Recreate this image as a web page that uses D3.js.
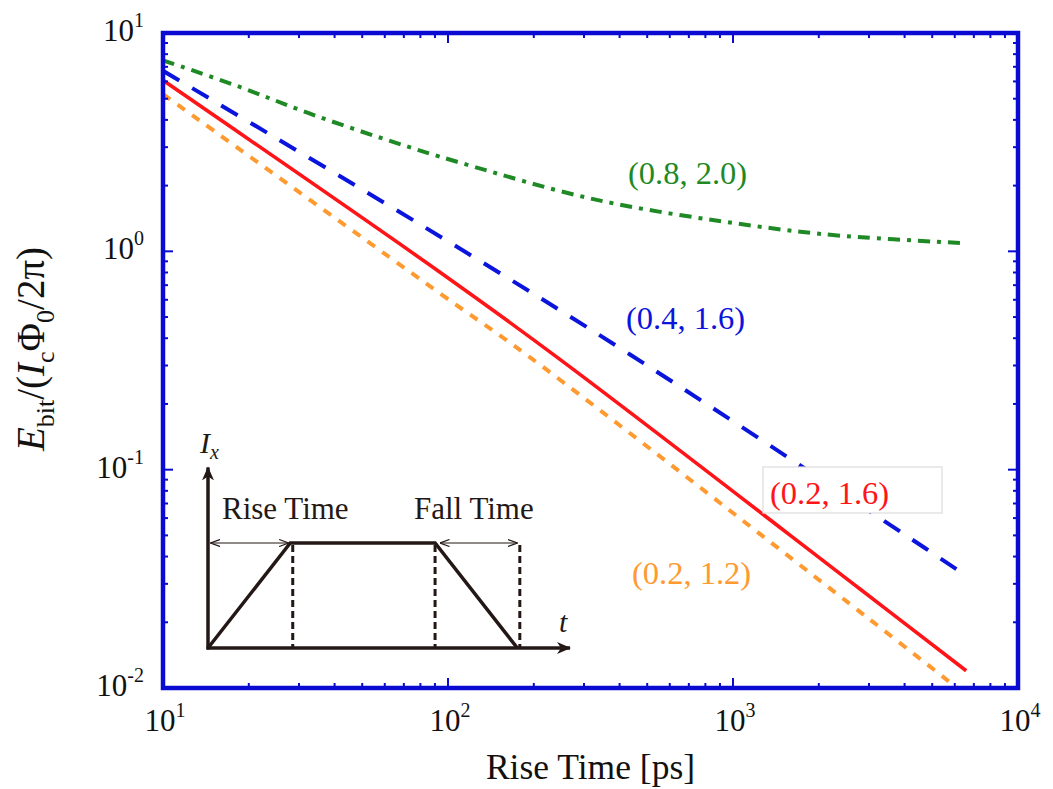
<!DOCTYPE html>
<html>
<head>
<meta charset="utf-8">
<script src="https://cdn.jsdelivr.net/npm/d3@7"></script>
<style>
  html, body { margin: 0; padding: 0; background: #fff; }
  svg { display: block; font-family: "Liberation Serif", "Times New Roman", serif; }
</style>
</head>
<body>
<svg id="chart" width="1053" height="789"></svg>
<script>
// Rise time [ps] and normalised switching energy for each (α, β) pair
const riseRed    = [10, 94, 247, 2790, 6580];
const energyRed  = [6.07, 0.80, 0.320, 0.0284, 0.0120];

const riseBlue   = [10, 94, 435, 4600, 6500];
const energyBlue = [6.71, 1.167, 0.337, 0.0447, 0.033];

const riseOrange   = [10, 94, 194, 2950, 6500];
const energyOrange = [5.25, 0.64, 0.327, 0.0211, 0.0094];

const riseGreen   = [10, 18.6, 32.8, 61, 110, 333, 1175, 2371, 6500];
const energyGreen = [7.5, 5.66, 4.27, 3.24, 2.55, 1.72, 1.31, 1.18, 1.09];

const seriesLabels = ["(0.8, 2.0)", "(0.4, 1.6)", "(0.2, 1.6)", "(0.2, 1.2)"];

const xTickExponents = [1, 2, 3, 4];
const yTickExponents = [-2, -1, 0, 1];

// Inset: schematic current pulse (time, current) in arbitrary units
const pulseT = [0, 1, 2.76, 3.76];
const pulseI = [0, 1, 1, 0];
const pulseMarkersT = [1.03, 2.76, 3.79];

const svg = d3.select("#chart");
const plot = { left: 163, right: 1018, top: 33, bottom: 688 };

const x = d3.scaleLog().domain([10, 1e4]).range([plot.left, plot.right]);
const y = d3.scaleLog().domain([0.01, 10]).range([plot.bottom, plot.top]);

const axisBlue = "#0a0ad2";

svg.append("defs").append("clipPath").attr("id", "plotClip")
  .append("rect")
  .attr("x", plot.left).attr("y", plot.top)
  .attr("width", plot.right - plot.left).attr("height", plot.bottom - plot.top);

// ---- curves ----
const line = d3.line().x(d => x(d[0])).y(d => y(d[1])).curve(d3.curveCatmullRom.alpha(0.5));
const series = [
  { t: riseGreen,  e: energyGreen,  color: "#1f8a25", dash: "12,7,4,7", width: 4 },
  { t: riseBlue,   e: energyBlue,   color: "#0a14dc", dash: "19,15",    width: 4 },
  { t: riseOrange, e: energyOrange, color: "#ff9a30", dash: "9,9",      width: 4 },
  { t: riseRed,    e: energyRed,    color: "#ff1418", dash: null,       width: 3.6 }
];
const curveG = svg.append("g").attr("clip-path", "url(#plotClip)");
series.forEach(s => {
  curveG.append("path")
    .datum(d3.zip(s.t, s.e))
    .attr("d", line)
    .attr("fill", "none")
    .attr("stroke", s.color)
    .attr("stroke-width", s.width)
    .attr("stroke-dasharray", s.dash);
});

// ---- curve labels ----
svg.append("rect")
  .attr("x", 763).attr("y", 467).attr("width", 179).attr("height", 46)
  .attr("fill", "#fff").attr("stroke", "#dcdcdc").attr("stroke-width", 1.2);

const labelSpecs = [
  { text: seriesLabels[0], x: 628, y: 184, color: "#1f8a25" },
  { text: seriesLabels[1], x: 626, y: 329, color: "#0a14dc" },
  { text: seriesLabels[2], x: 770, y: 504, color: "#ff1418" },
  { text: seriesLabels[3], x: 632, y: 584, color: "#ff9a30" }
];
labelSpecs.forEach(l => {
  svg.append("text").attr("x", l.x).attr("y", l.y)
    .attr("font-size", 32.5).attr("fill", l.color).text(l.text);
});

// ---- frame and ticks ----
const tickG = svg.append("g").attr("stroke", axisBlue).attr("stroke-width", 2);
function minorValues(lo, hi) {
  const out = [];
  for (let e = lo; e < hi; e++) for (let m = 2; m <= 9; m++) out.push(m * Math.pow(10, e));
  return out;
}
const xMinor = minorValues(1, 4);
const yMinor = minorValues(-2, 1);
const majorLen = 10, minorLen = 5;

xTickExponents.forEach(e => {
  const px = x(Math.pow(10, e));
  tickG.append("line").attr("x1", px).attr("x2", px).attr("y1", plot.bottom).attr("y2", plot.bottom - majorLen);
  tickG.append("line").attr("x1", px).attr("x2", px).attr("y1", plot.top).attr("y2", plot.top + majorLen);
});
xMinor.forEach(v => {
  const px = x(v);
  tickG.append("line").attr("x1", px).attr("x2", px).attr("y1", plot.bottom).attr("y2", plot.bottom - minorLen);
  tickG.append("line").attr("x1", px).attr("x2", px).attr("y1", plot.top).attr("y2", plot.top + minorLen);
});
yTickExponents.forEach(e => {
  const py = y(Math.pow(10, e));
  tickG.append("line").attr("y1", py).attr("y2", py).attr("x1", plot.left).attr("x2", plot.left + majorLen);
  tickG.append("line").attr("y1", py).attr("y2", py).attr("x1", plot.right).attr("x2", plot.right - majorLen);
});
yMinor.forEach(v => {
  const py = y(v);
  tickG.append("line").attr("y1", py).attr("y2", py).attr("x1", plot.left).attr("x2", plot.left + minorLen);
  tickG.append("line").attr("y1", py).attr("y2", py).attr("x1", plot.right).attr("x2", plot.right - minorLen);
});

svg.append("rect")
  .attr("x", plot.left).attr("y", plot.top)
  .attr("width", plot.right - plot.left).attr("height", plot.bottom - plot.top)
  .attr("fill", "none").attr("stroke", axisBlue).attr("stroke-width", 4.5);

// ---- tick labels ----
function powerLabel(sel, exp) {
  sel.append("tspan").attr("font-size", 31).text("10");
  sel.append("tspan").attr("font-size", 20).attr("dy", -14).text(String(exp));
}
xTickExponents.forEach(e => {
  const t = svg.append("text").attr("x", x(Math.pow(10, e)) + 2).attr("y", 731)
    .attr("text-anchor", "middle").attr("fill", "#111");
  powerLabel(t, e);
});
yTickExponents.forEach(e => {
  const t = svg.append("text").attr("x", 144).attr("y", y(Math.pow(10, e)) + 8)
    .attr("text-anchor", "end").attr("fill", "#111");
  powerLabel(t, e);
});

// ---- axis titles ----
svg.append("text").attr("x", (plot.left + plot.right) / 2).attr("y", 779)
  .attr("text-anchor", "middle").attr("font-size", 35.5).attr("fill", "#111")
  .text("Rise Time [ps]");

const yTitle = svg.append("text")
  .attr("transform", "translate(44,349) rotate(-90)")
  .attr("text-anchor", "middle").attr("font-size", 39).attr("fill", "#111");
yTitle.append("tspan").attr("font-style", "italic").text("E");
yTitle.append("tspan").attr("font-size", 26).attr("dy", 10).text("bit");
yTitle.append("tspan").attr("dy", -10).text("/(");
yTitle.append("tspan").attr("font-style", "italic").text("I");
yTitle.append("tspan").attr("font-size", 26).attr("dy", 10).text("c");
yTitle.append("tspan").attr("dy", -10).text("Φ");
yTitle.append("tspan").attr("font-size", 26).attr("dy", 10).text("0");
yTitle.append("tspan").attr("dy", -10).text("/2π)");

// ---- inset: pulse schematic ----
const ink = "#231815";
const ts = d3.scaleLinear().domain([0, 4.4]).range([208, 570]);
const is = d3.scaleLinear().domain([0, 1]).range([648, 543]);
const defs = svg.select("defs");
defs.append("marker").attr("id", "bigArrow")
  .attr("viewBox", "0 0 14 12").attr("refX", 13).attr("refY", 6)
  .attr("markerWidth", 14).attr("markerHeight", 12).attr("markerUnits", "userSpaceOnUse")
  .attr("orient", "auto")
  .append("path").attr("d", "M0,0 L14,6 L0,12 L4,6 Z").attr("fill", ink);
defs.append("marker").attr("id", "smallArrow")
  .attr("viewBox", "0 0 10 8").attr("refX", 9.5).attr("refY", 4)
  .attr("markerWidth", 10).attr("markerHeight", 8).attr("markerUnits", "userSpaceOnUse")
  .attr("orient", "auto-start-reverse")
  .append("path").attr("d", "M0,0.5 L9.5,4 L0,7.5").attr("fill", "none").attr("stroke", ink).attr("stroke-width", 1.2);

const inset = svg.append("g");
// axes
inset.append("line").attr("x1", ts(0)).attr("x2", ts(0)).attr("y1", is(0) + 1.5).attr("y2", is(1.72))
  .attr("stroke", ink).attr("stroke-width", 3.5).attr("marker-end", "url(#bigArrow)");
inset.append("line").attr("x1", ts(0) - 1.5).attr("x2", ts(4.4)).attr("y1", is(0)).attr("y2", is(0))
  .attr("stroke", ink).attr("stroke-width", 3.5).attr("marker-end", "url(#bigArrow)");
// pulse shape
inset.append("path")
  .datum(d3.zip(pulseT, pulseI))
  .attr("d", d3.line().x(d => ts(d[0])).y(d => is(d[1])))
  .attr("fill", "none").attr("stroke", ink).attr("stroke-width", 3.5).attr("stroke-linejoin", "miter");
// dashed guides
pulseMarkersT.forEach(t => {
  inset.append("line").attr("x1", ts(t)).attr("x2", ts(t)).attr("y1", is(0.98)).attr("y2", is(0))
    .attr("stroke", ink).attr("stroke-width", 3).attr("stroke-dasharray", "7,4");
});
// interval arrows
[[0.03, 0.98], [2.82, 3.76]].forEach(([a, b]) => {
  inset.append("line").attr("x1", ts(a)).attr("x2", ts(b)).attr("y1", is(1)).attr("y2", is(1))
    .attr("stroke", ink).attr("stroke-width", 1.2)
    .attr("marker-start", "url(#smallArrow)").attr("marker-end", "url(#smallArrow)");
});
inset.append("text").attr("x", 222).attr("y", 519).attr("font-size", 31).attr("fill", ink).text("Rise Time");
inset.append("text").attr("x", 414).attr("y", 519).attr("font-size", 31).attr("fill", ink).text("Fall Time");
const ix = inset.append("text").attr("x", 200).attr("y", 453).attr("font-size", 30).attr("fill", ink).attr("font-style", "italic");
ix.append("tspan").text("I");
ix.append("tspan").attr("font-size", 20).attr("dy", 6).text("x");
inset.append("text").attr("x", 559).attr("y", 632).attr("font-size", 30).attr("font-style", "italic").attr("fill", ink).text("t");
</script>
</body>
</html>
